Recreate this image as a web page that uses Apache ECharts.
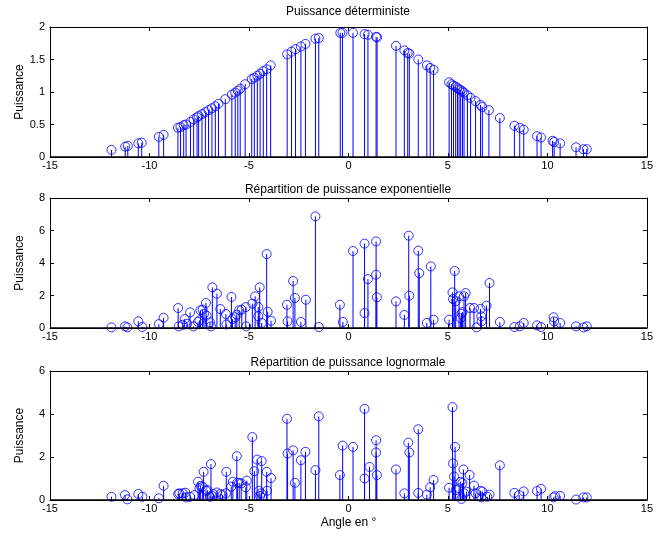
<!DOCTYPE html>
<html>
<head>
<meta charset="utf-8">
<script src="https://cdn.jsdelivr.net/npm/echarts@6/dist/echarts.min.js"></script>
<style>
html,body{margin:0;padding:0;background:#fff;}
#chart{width:656px;height:543px;}
</style>
</head>
<body>
<div id="chart"></div>
<script>
// ---- Data ----
const titles = ["Puissance déterministe", "Répartition de puissance exponentielle", "Répartition de puissance lognormale"];
const xTickLabels = [-15, -10, -5, 0, 5, 10, 15];
const yTicksDet = [0, 0.5, 1, 1.5, 2];
const yTicksExp = [0, 2, 4, 6, 8];
const yTicksLog = [0, 2, 4, 6];

const anglesDet = [-11.91,-11.22,-11.09,-10.56,-10.39,-9.53,-9.29,-8.57,-8.44,-8.28,-8.16,-7.94,-7.78,-7.61,-7.53,-7.36,-7.19,-7.03,-6.86,-6.69,-6.53,-6.19,-5.86,-5.69,-5.56,-5.44,-5.19,-4.86,-4.73,-4.58,-4.44,-4.28,-4.11,-3.91,-3.08,-2.86,-2.66,-2.39,-2.16,-1.66,-1.49,-0.41,-0.30,0.23,0.81,0.98,1.39,1.44,2.39,2.81,2.98,3.06,3.51,3.94,4.11,4.28,5.06,5.18,5.28,5.39,5.48,5.56,5.64,5.73,5.81,5.98,6.14,6.39,6.64,6.73,7.06,7.61,8.34,8.61,8.81,9.48,9.68,10.26,10.34,10.64,11.44,11.81,11.98];
const powerDet = [0.11,0.16,0.17,0.21,0.22,0.31,0.34,0.45,0.46,0.49,0.50,0.54,0.58,0.61,0.63,0.66,0.69,0.72,0.75,0.78,0.82,0.89,0.96,0.99,1.02,1.05,1.12,1.20,1.22,1.25,1.28,1.32,1.35,1.41,1.58,1.62,1.66,1.70,1.74,1.82,1.83,1.91,1.91,1.91,1.89,1.88,1.85,1.84,1.71,1.64,1.60,1.59,1.50,1.41,1.37,1.34,1.15,1.12,1.10,1.08,1.06,1.04,1.03,1.01,0.99,0.95,0.91,0.86,0.80,0.77,0.72,0.60,0.48,0.45,0.42,0.32,0.30,0.25,0.23,0.21,0.15,0.12,0.12];

const anglesExp = [-11.91,-11.23,-11.11,-10.56,-10.36,-9.53,-9.29,-8.56,-8.53,-8.33,-8.23,-8.11,-7.96,-7.79,-7.56,-7.49,-7.44,-7.33,-7.26,-7.16,-7.13,-6.96,-6.91,-6.84,-6.61,-6.44,-6.16,-6.13,-5.88,-5.83,-5.69,-5.61,-5.49,-5.36,-5.16,-5.14,-4.83,-4.69,-4.53,-4.53,-4.46,-4.36,-4.11,-4.06,-3.89,-3.09,-3.06,-2.78,-2.69,-2.39,-2.14,-1.66,-1.49,-0.43,-0.28,0.23,0.81,0.81,0.98,1.39,1.39,1.43,2.39,2.81,3.03,3.06,3.51,3.56,3.94,4.14,4.28,5.06,5.23,5.26,5.34,5.39,5.56,5.64,5.68,5.73,5.81,5.89,6.11,6.31,6.44,6.64,6.68,6.69,6.94,7.09,7.61,8.34,8.61,8.81,9.48,9.68,10.31,10.34,10.64,11.44,11.81,11.98];
const powerExp = [0.04,0.10,0.04,0.41,0.06,0.24,0.63,1.23,0.10,0.20,0.55,0.26,0.96,0.10,0.37,0.47,1.09,1.13,0.88,1.54,0.76,0.35,0.10,2.50,2.11,1.17,0.86,0.22,1.91,0.55,0.66,0.82,1.09,1.13,1.29,0.10,1.50,1.95,1.29,0.72,2.50,0.31,4.55,1.00,0.45,1.43,0.41,2.89,1.85,0.37,1.74,6.87,0.06,1.43,0.37,4.74,5.19,0.92,3.01,5.33,3.28,1.89,1.64,0.80,5.68,1.99,4.76,3.38,0.31,3.79,0.51,0.51,2.19,1.78,3.51,1.64,1.95,0.61,0.88,0.98,1.95,2.15,1.23,1.23,0.04,1.17,0.72,0.41,1.37,2.77,0.37,0.06,0.10,0.31,0.16,0.06,0.66,0.41,0.31,0.10,0.04,0.10];

const anglesLog = [-11.91,-11.23,-11.11,-10.56,-10.36,-9.53,-9.29,-8.56,-8.50,-8.33,-8.20,-8.16,-7.96,-7.74,-7.56,-7.49,-7.43,-7.33,-7.28,-7.16,-7.09,-6.96,-6.91,-6.84,-6.79,-6.61,-6.44,-6.33,-6.16,-6.14,-5.89,-5.81,-5.61,-5.58,-5.49,-5.39,-5.16,-5.11,-4.83,-4.73,-4.59,-4.49,-4.44,-4.39,-4.36,-4.11,-4.09,-3.89,-3.09,-3.06,-2.78,-2.69,-2.39,-2.16,-1.66,-1.49,-0.43,-0.29,0.23,0.81,0.81,1.06,1.39,1.39,1.43,2.39,2.81,3.01,3.06,3.51,3.51,3.94,4.11,4.28,5.06,5.23,5.26,5.31,5.36,5.39,5.56,5.64,5.68,5.73,5.78,5.81,5.93,6.09,6.31,6.39,6.64,6.68,6.73,6.98,7.09,7.61,8.34,8.58,8.81,9.48,9.68,10.31,10.39,10.64,11.44,11.81,11.98];
const powerLog = [0.15,0.23,0.03,0.28,0.15,0.08,0.66,0.28,0.31,0.31,0.34,0.12,0.15,0.23,0.85,0.54,0.65,0.62,1.31,0.43,0.46,0.15,1.67,0.18,0.28,0.35,0.28,0.23,0.31,1.31,0.62,0.85,2.04,0.80,0.80,0.77,0.59,0.90,2.93,1.34,1.88,0.43,0.18,0.31,1.81,1.31,0.43,1.02,3.78,2.16,2.31,0.80,1.85,2.24,1.39,3.89,1.16,2.53,2.47,4.24,1.00,1.54,2.78,2.21,1.16,1.42,0.31,2.67,2.21,3.29,0.33,0.25,0.59,0.93,0.57,4.32,1.70,1.09,2.47,0.46,0.54,0.85,0.05,0.79,1.42,0.31,0.39,1.16,0.67,0.31,0.43,0.12,0.39,0.15,0.25,1.61,0.33,0.23,0.40,0.42,0.52,0.12,0.18,0.19,0.02,0.12,0.12];

// ---- Layout ----
const FONT = "Liberation Sans, Arial, sans-serif";
const BLUE = "#0000ff";
const grids = [
  {left: 50, right: 6, top: 27, height: 130},
  {left: 50, right: 6, top: 198, height: 130},
  {left: 50, right: 6, top: 371, height: 129}
];
const yMax = [2, 8, 6];
const yInt = [0.5, 2, 2];
const yNameGap = [24, 24, 24];
const titleTop = [1, 179, 352];
const datasets = [[anglesDet, powerDet], [anglesExp, powerExp], [anglesLog, powerLog]];

function pairs(a, b) { return a.map((x, i) => [x, b[i]]); }

const xAxes = [], yAxes = [], series = [], titleOpts = [];
grids.forEach((g, i) => {
  xAxes.push({
    type: 'value', gridIndex: i, min: xTickLabels[0], max: xTickLabels[xTickLabels.length-1], interval: 5,
    position: 'bottom',
    axisLine: {show: true, onZero: false, lineStyle: {color: '#000', width: 1}},
    axisTick: {show: true, inside: true, length: 4, lineStyle: {color: '#000'}},
    axisLabel: {color: '#000', fontFamily: FONT, fontSize: 11, margin: 3},
    splitLine: {show: false},
    name: i === 2 ? 'Angle en °' : '', nameLocation: 'middle', nameGap: 17,
    nameMoveOverlap: false,
    nameTextStyle: {color: '#000', fontFamily: FONT, fontSize: 12}
  });
  xAxes.push({
    type: 'value', gridIndex: i, min: xTickLabels[0], max: xTickLabels[xTickLabels.length-1], interval: 5,
    position: 'top',
    axisLine: {show: true, onZero: false, lineStyle: {color: '#000', width: 1}},
    axisTick: {show: true, inside: true, length: 4, lineStyle: {color: '#000'}},
    axisLabel: {show: false}, splitLine: {show: false}
  });
  yAxes.push({
    type: 'value', gridIndex: i, min: 0, max: yMax[i], interval: yInt[i],
    position: 'left',
    axisLine: {show: true, onZero: false, lineStyle: {color: '#000'}},
    axisTick: {show: true, inside: true, length: 4, lineStyle: {color: '#000'}},
    axisLabel: {color: '#000', fontFamily: FONT, fontSize: 11, margin: 5},
    splitLine: {show: false},
    name: 'Puissance', nameLocation: 'middle', nameGap: yNameGap[i],
    nameMoveOverlap: false,
    nameTextStyle: {color: '#000', fontFamily: FONT, fontSize: 12}
  });
  yAxes.push({
    type: 'value', gridIndex: i, min: 0, max: yMax[i], interval: yInt[i],
    position: 'right',
    axisLine: {show: true, onZero: false, lineStyle: {color: '#000'}},
    axisTick: {show: true, inside: true, length: 4, lineStyle: {color: '#000'}},
    axisLabel: {show: false}, splitLine: {show: false}
  });
  const data = pairs(datasets[i][0], datasets[i][1]);
  series.push({
    type: 'custom', xAxisIndex: 2*i, yAxisIndex: 2*i, data: data, silent: true,
    renderItem: function (params, api) {
      const p0 = api.coord([api.value(0), 0]);
      const p1 = api.coord([api.value(0), api.value(1)]);
      return {type: 'line', shape: {x1: p0[0], y1: p0[1], x2: p1[0], y2: p1[1]},
              style: {stroke: BLUE, lineWidth: 1}};
    },
    z: 2
  });
  series.push({
    type: 'scatter', xAxisIndex: 2*i, yAxisIndex: 2*i, data: data,
    symbol: 'circle', symbolSize: 9,
    itemStyle: {color: 'transparent', borderColor: BLUE, borderWidth: 1},
    z: 3, silent: true
  });
  series.push({
    type: 'line', xAxisIndex: 2*i, yAxisIndex: 2*i,
    data: [[xTickLabels[0], 0], [xTickLabels[xTickLabels.length-1], 0]],
    symbol: 'none', lineStyle: {color: '#000', width: 1.5}, z: 4, silent: true
  });
  titleOpts.push({
    text: titles[i], left: 343, top: titleTop[i], textAlign: 'center',
    textStyle: {color: '#000', fontFamily: FONT, fontSize: 12, fontWeight: 'normal'}
  });
});

const chart = echarts.init(document.getElementById('chart'), null, {renderer: 'canvas'});
chart.setOption({
  animation: false,
  backgroundColor: '#fff',
  title: titleOpts,
  grid: grids,
  xAxis: xAxes,
  yAxis: yAxes,
  series: series
});
</script>
</body>
</html>
